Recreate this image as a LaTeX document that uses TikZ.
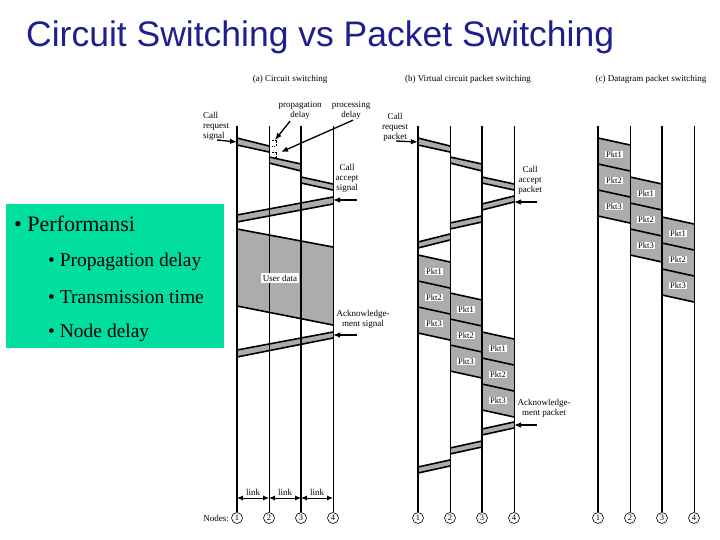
\documentclass[tikz,border=0pt]{standalone}
\usepackage{fontspec}
\setmainfont{Liberation Serif}
\newfontfamily\titlefont{Liberation Sans}
\usetikzlibrary{arrows.meta}
\definecolor{titleblue}{RGB}{30,30,140}
\definecolor{boxgreen}{RGB}{0,222,160}
\definecolor{bandgray}{RGB}{172,172,172}
\newcommand{\sigband}[6]{%
  \fill[bandgray] (#1,#2) -- (#4,#5) -- (#4,#6) -- (#1,#3) -- cycle;
  \draw[edge] (#1,#2) -- (#4,#5);
  \draw[edge] (#1,#3) -- (#4,#6);}
\newcommand{\pktgroup}[4]{% left x, right x, top y, name prefix
  \fill[bandgray] (#1,#3) -- (#2,#3+7) -- (#2,#3+85) -- (#1,#3+78) -- cycle;
  \foreach \k in {0,1,2,3} {\draw[edge] (#1,#3+26*\k) -- (#2,#3+26*\k+7);}
  \foreach \k in {1,2,3} {\node[pkt] (#4\k) at ({(#1+#2)/2},#3+26*\k-9.5) {Pkt\k};}}
\begin{document}
\begin{tikzpicture}[x=1pt,y=-1pt,
  edge/.style={line width=1.6pt},
  thickv/.style={line width=2pt},
  thinv/.style={line width=0.9pt},
  lbl/.style={font=\fontsize{9}{10}\selectfont, inner sep=0pt, align=center},
  pkt/.style={font=\fontsize{8.5}{9}\selectfont, fill=white, inner sep=1pt},
  nodecirc/.style={circle, draw, line width=0.6pt, inner sep=0pt, minimum size=11pt, font=\fontsize{8.5}{9}\selectfont},
  arr/.style={-{Latex[length=7pt,width=5.5pt]}, line width=1.3pt},
  linkarr/.style={{Latex[length=6pt,width=5pt]}-{Latex[length=6pt,width=5pt]}, line width=0.9pt},
  bullet1/.style={font=\fontsize{22}{26}\selectfont, anchor=west, inner sep=0pt},
  bullet2/.style={font=\fontsize{19.5}{21}\selectfont, anchor=west, inner sep=0pt}]
\useasboundingbox (0,0) rectangle (720,540);
\fill[white] (0,0) rectangle (720,540);

% title
\node[anchor=west, inner sep=0pt, font=\titlefont\fontsize{35.5}{40}\selectfont, text=titleblue] (title) at (26,37) {Circuit Switching vs Packet Switching};

% green box
\fill[boxgreen] (6,204) rectangle (224,348);
\node[bullet1] (perf) at (14,224) {\textbullet\ Performansi};
\node[bullet2] (prop) at (48,262) {\textbullet\ Propagation delay};
\node[bullet2] (trans) at (48,297) {\textbullet\ Transmission time};
\node[bullet2] (nodel) at (48,333) {\textbullet\ Node delay};

% panel titles
\node[lbl] (ta) at (290,79) {(a) Circuit switching};
\node[lbl] (tb) at (468,79) {(b) Virtual circuit packet switching};
\node[lbl] (tc) at (651,79) {(c) Datagram packet switching};

% ---------- panel (a) ----------
\sigband{237}{138}{145}{269}{146}{152}
\sigband{269}{157}{163}{301}{164}{171}
\sigband{301}{177}{183}{333}{184}{190}
\sigband{333}{197}{204}{237}{215}{222}
\fill[bandgray] (237,229) -- (333,247) -- (333,325) -- (237,306) -- cycle;
\draw[edge] (237,229) -- (333,247);
\draw[edge] (237,306) -- (333,325);
\sigband{333}{332}{338}{237}{350}{357}

% delay markers
\draw[line width=0.6pt, dash pattern=on 1.5pt off 1.2pt] (272,140) -- (276,140) -- (276,146) -- (272,146);
\draw[line width=0.6pt, dash pattern=on 1.5pt off 1.2pt] (272,152) -- (276,152) -- (276,157) -- (272,157);

\node[lbl, anchor=north west, align=left] (creqa) at (203,112) {Call\\request\\signal};
\node[lbl] (propd) at (300,110) {propagation\\delay};
\node[lbl] (procd) at (351,110) {processing\\delay};
\node[lbl] (cacca) at (347,178) {Call\\accept\\signal};
\node[lbl] (acka) at (363,319.5) {Acknowledge-\\ment signal};
\coordinate (creqaS) at (217,140);
\coordinate (creqaE) at (237,142);
\draw[arr] (creqaS) -- (creqaE);
\coordinate (propE) at (275,140);
\coordinate (procE) at (281,152);
\draw[arr] (propd.south) ++(-10,2) coordinate (propS) -- (propE);
\draw[arr] (procd.south) ++(2,1) coordinate (procS) -- (procE);
\coordinate (caccaS) at (357,200);
\coordinate (caccaE) at (333,200);
\draw[arr] (caccaS) -- (caccaE);
\coordinate (ackaS) at (357,335);
\coordinate (ackaE) at (333,335);
\draw[arr] (ackaS) -- (ackaE);

% ---------- panel (b) ----------
\sigband{418}{138}{145}{450}{146}{152}
\sigband{450}{157}{163}{482}{164}{171}
\sigband{482}{177}{183}{514}{184}{190}
\sigband{514}{196}{202}{482}{204}{210}
\sigband{482}{216}{222}{450}{223}{229}
\sigband{450}{234}{240}{418}{242}{248}
\pktgroup{418}{450}{255}{pbA}
\pktgroup{450}{482}{293}{pbB}
\pktgroup{482}{514}{332}{pbC}
\sigband{514}{422}{428}{482}{429}{435}
\sigband{482}{441}{447}{450}{448}{454}
\sigband{450}{460}{466}{418}{467}{473}

\node[lbl] (creqb) at (395,127) {Call\\request\\packet};
\node[lbl] (caccb) at (530,180) {Call\\accept\\packet};
\node[lbl] (ackb) at (544,408) {Acknowledge-\\ment packet};
\coordinate (creqbS) at (396,141);
\coordinate (creqbE) at (418,142);
\draw[arr] (creqbS) -- (creqbE);
\coordinate (caccbS) at (537,202);
\coordinate (caccbE) at (514,202);
\draw[arr] (caccbS) -- (caccbE);
\coordinate (ackbS) at (537,425);
\coordinate (ackbE) at (514,425);
\draw[arr] (ackbS) -- (ackbE);

% ---------- panel (c) ----------
\pktgroup{598}{630}{138}{pcA}
\pktgroup{630}{662}{177}{pcB}
\pktgroup{662}{694}{217}{pcC}

% ---------- node lines ----------
\foreach \p/\xo in {a/237, b/418, c/598}{
  \foreach \i/\dx/\w in {1/0/thickv, 2/32/thinv, 3/64/thickv, 4/96/thinv}{
    \node[nodecirc] (n\p\i) at (\xo+\dx,518) {\i};
    \coordinate (t\p\i) at (\xo+\dx,126);
    \coordinate (l\p\i) at (\xo+\dx,498);
    \draw[\w] (t\p\i) -- (n\p\i.north);
  }
}
\node[lbl, fill=white, inner sep=1.5pt] (udata) at (280,278) {User data};
\node[lbl, anchor=east] (nodes) at (229,518) {Nodes:};
\draw[linkarr] (la1) -- node[lbl, above=2pt] (lk1) {link} (la2);
\draw[linkarr] (la2) -- node[lbl, above=2pt] (lk2) {link} (la3);
\draw[linkarr] (la3) -- node[lbl, above=2pt] (lk3) {link} (la4);
\end{tikzpicture}
\end{document}
